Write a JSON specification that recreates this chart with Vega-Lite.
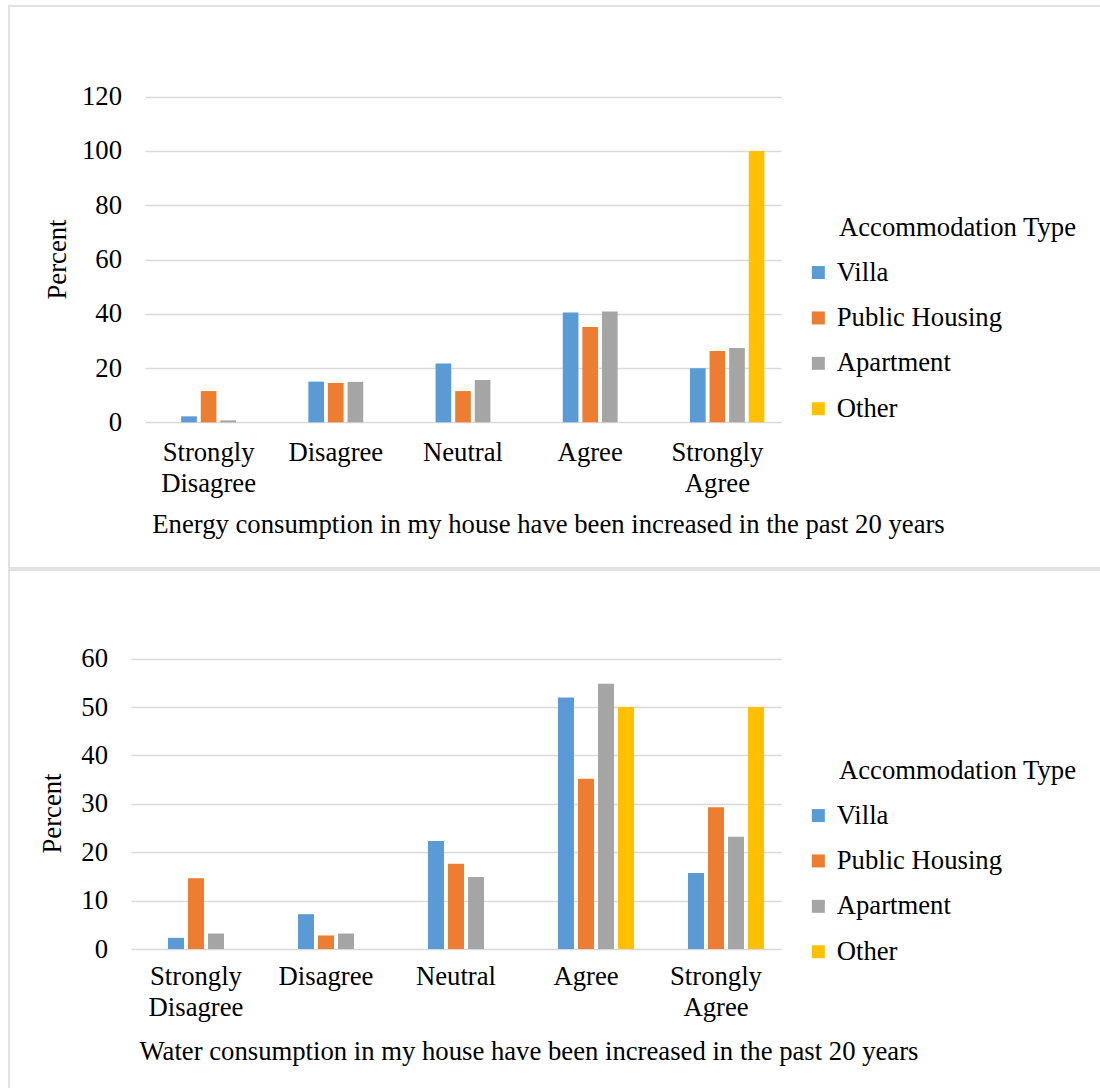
{
  "$schema": "https://vega.github.io/schema/vega-lite/v6.json",
  "autosize": {"type": "pad"},
  "padding": {"left": 8, "top": 5, "right": 0, "bottom": 0},
  "spacing": 0,
  "background": "white",
  "datasets": {
    "energy": [
      {"response": "Strongly Disagree", "type": "Villa", "percent": 2.2},
      {"response": "Strongly Disagree", "type": "Public Housing", "percent": 11.5},
      {"response": "Strongly Disagree", "type": "Apartment", "percent": 0.7},
      {"response": "Disagree", "type": "Villa", "percent": 15.0},
      {"response": "Disagree", "type": "Public Housing", "percent": 14.5},
      {"response": "Disagree", "type": "Apartment", "percent": 14.9},
      {"response": "Neutral", "type": "Villa", "percent": 21.7},
      {"response": "Neutral", "type": "Public Housing", "percent": 11.5},
      {"response": "Neutral", "type": "Apartment", "percent": 15.6},
      {"response": "Agree", "type": "Villa", "percent": 40.5},
      {"response": "Agree", "type": "Public Housing", "percent": 35.1},
      {"response": "Agree", "type": "Apartment", "percent": 40.8},
      {"response": "Strongly Agree", "type": "Villa", "percent": 19.9},
      {"response": "Strongly Agree", "type": "Public Housing", "percent": 26.3},
      {"response": "Strongly Agree", "type": "Apartment", "percent": 27.4},
      {"response": "Strongly Agree", "type": "Other", "percent": 100}
    ],
    "water": [
      {"response": "Strongly Disagree", "type": "Villa", "percent": 2.3},
      {"response": "Strongly Disagree", "type": "Public Housing", "percent": 14.6},
      {"response": "Strongly Disagree", "type": "Apartment", "percent": 3.2},
      {"response": "Disagree", "type": "Villa", "percent": 7.2},
      {"response": "Disagree", "type": "Public Housing", "percent": 2.8},
      {"response": "Disagree", "type": "Apartment", "percent": 3.2},
      {"response": "Neutral", "type": "Villa", "percent": 22.3},
      {"response": "Neutral", "type": "Public Housing", "percent": 17.6},
      {"response": "Neutral", "type": "Apartment", "percent": 14.9},
      {"response": "Agree", "type": "Villa", "percent": 52.0},
      {"response": "Agree", "type": "Public Housing", "percent": 35.2},
      {"response": "Agree", "type": "Apartment", "percent": 54.8},
      {"response": "Agree", "type": "Other", "percent": 50},
      {"response": "Strongly Agree", "type": "Villa", "percent": 15.7},
      {"response": "Strongly Agree", "type": "Public Housing", "percent": 29.3},
      {"response": "Strongly Agree", "type": "Apartment", "percent": 23.2},
      {"response": "Strongly Agree", "type": "Other", "percent": 50}
    ]
  },
  "config": {
    "font": "Liberation Serif",
    "view": {"stroke": "#d9d9d9", "strokeWidth": 1.5},
    "axis": {
      "labelFont": "Liberation Serif",
      "labelFontSize": 26.7,
      "labelColor": "#000000",
      "titleFont": "Liberation Serif",
      "titleFontSize": 26.7,
      "titleFontWeight": "normal",
      "titleColor": "#000000",
      "gridColor": "#d9d9d9",
      "gridWidth": 1.6,
      "domain": false,
      "ticks": false
    },
    "legend": {
      "labelFont": "Liberation Serif",
      "labelFontSize": 26.7,
      "labelColor": "#000000",
      "labelLimit": 0,
      "titleFont": "Liberation Serif",
      "titleFontSize": 26.7,
      "titleFontWeight": "normal",
      "titleColor": "#000000",
      "titleLimit": 0,
      "symbolType": "square",
      "symbolSize": 169,
      "symbolStrokeWidth": 0,
      "rowPadding": 17.4,
      "titlePadding": 17.5,
      "symbolOffset": -34,
      "labelOffset": 5,
      "padding": 0
    }
  },
  "resolve": {
    "scale": {"x": "independent", "y": "independent", "xOffset": "independent"},
    "legend": {"color": "independent"}
  },
  "vconcat": [
    {
      "width": 1100,
      "height": 562,
      "data": {"name": "energy"},
      "mark": {"type": "bar"},
      "encoding": {
        "x": {
          "field": "response",
          "type": "nominal",
          "sort": ["Strongly Disagree", "Disagree", "Neutral", "Agree", "Strongly Agree"],
          "scale": {"range": [136, 772], "paddingInner": 0.23, "paddingOuter": 0.115},
          "axis": {
            "title": "Energy consumption in my house have been increased in the past 20 years",
            "labelAngle": 0,
            "offset": -145.7,
            "labelPadding": 17.5,
            "labelLineHeight": 31,
            "labelExpr": "split(datum.label, ' ')",
            "titleX": 539,
            "titleY": 101.7,
            "titleAlign": "center",
            "titleBaseline": "middle",
            "grid": false
          }
        },
        "xOffset": {
          "field": "type",
          "type": "nominal",
          "scale": {
            "domain": ["Villa", "Public Housing", "Apartment", "Other"],
            "paddingInner": 0.2,
            "paddingOuter": 0.6,
            "align": 0.9167
          }
        },
        "y": {
          "field": "percent",
          "type": "quantitative",
          "scale": {"domain": [0, 120], "range": [416.3, 90.7], "nice": false},
          "axis": {
            "values": [0, 20, 40, 60, 80, 100, 120],
            "offset": -136,
            "labelPadding": 23.5,
            "title": "Percent",
            "titleX": -88,
            "titleY": 253,
            "titleAngle": -90,
            "titleAlign": "center",
            "titleBaseline": "middle",
            "grid": true
          }
        },
        "color": {
          "field": "type",
          "type": "nominal",
          "scale": {
            "domain": ["Villa", "Public Housing", "Apartment", "Other"],
            "range": ["#5b9bd5", "#ed7d31", "#a5a5a5", "#ffc000"]
          },
          "legend": {
            "title": "Accommodation Type",
            "orient": "none",
            "legendX": 830,
            "legendY": 209
          }
        }
      }
    },
    {
      "width": 1100,
      "height": 533,
      "data": {"name": "water"},
      "mark": {"type": "bar"},
      "encoding": {
        "x": {
          "field": "response",
          "type": "nominal",
          "sort": ["Strongly Disagree", "Disagree", "Neutral", "Agree", "Strongly Agree"],
          "scale": {"range": [122, 772], "paddingInner": 0.23, "paddingOuter": 0.115},
          "axis": {
            "title": "Water consumption in my house have been increased in the past 20 years",
            "labelAngle": 0,
            "offset": -154,
            "labelPadding": 14.5,
            "labelLineHeight": 31,
            "labelExpr": "split(datum.label, ' ')",
            "titleX": 519.5,
            "titleY": 102,
            "titleAlign": "center",
            "titleBaseline": "middle",
            "grid": false
          }
        },
        "xOffset": {
          "field": "type",
          "type": "nominal",
          "scale": {
            "domain": ["Villa", "Public Housing", "Apartment", "Other"],
            "paddingInner": 0.2,
            "paddingOuter": 0.6,
            "align": 0.9167
          }
        },
        "y": {
          "field": "percent",
          "type": "quantitative",
          "scale": {"domain": [0, 60], "range": [379, 88.7], "nice": false},
          "axis": {
            "values": [0, 10, 20, 30, 40, 50, 60],
            "offset": -122,
            "labelPadding": 23.5,
            "title": "Percent",
            "titleX": -79,
            "titleY": 243,
            "titleAngle": -90,
            "titleAlign": "center",
            "titleBaseline": "middle",
            "grid": true
          }
        },
        "color": {
          "field": "type",
          "type": "nominal",
          "scale": {
            "domain": ["Villa", "Public Housing", "Apartment", "Other"],
            "range": ["#5b9bd5", "#ed7d31", "#a5a5a5", "#ffc000"]
          },
          "legend": {
            "title": "Accommodation Type",
            "orient": "none",
            "legendX": 830,
            "legendY": 188
          }
        }
      }
    }
  ]
}
